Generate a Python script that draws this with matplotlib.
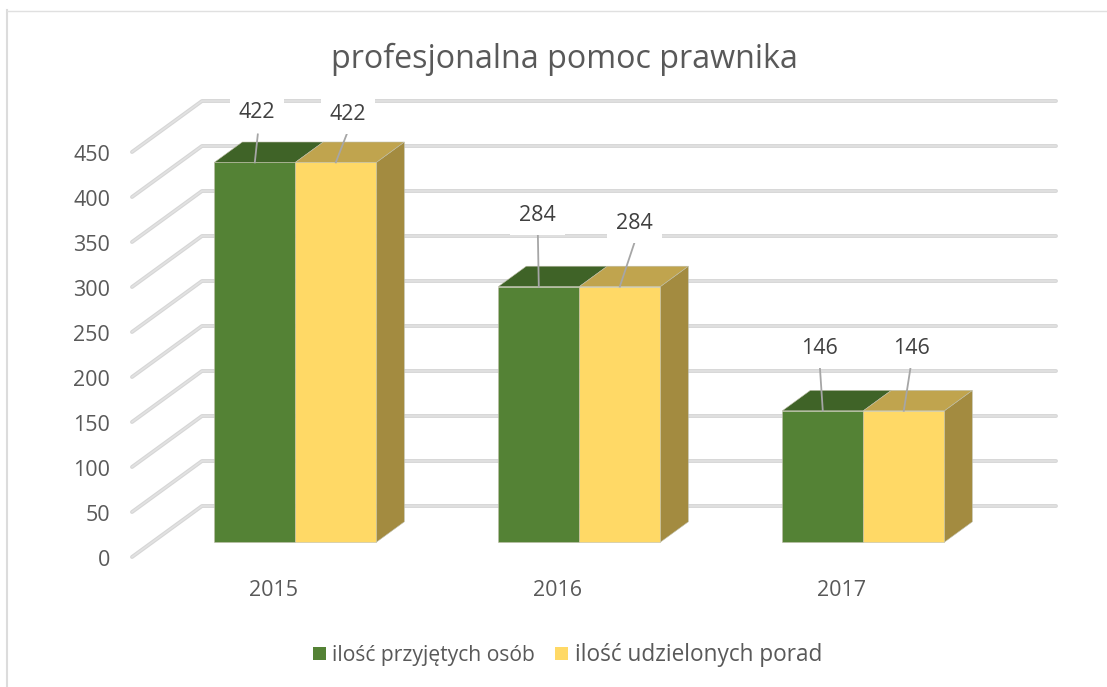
import matplotlib
matplotlib.use("Agg")
import matplotlib.pyplot as plt
from matplotlib.patches import Polygon, Patch

plt.rcParams["font.family"] = ["Open Sans", "DejaVu Sans"]

years = ["2015", "2016", "2017"]
przyjete = [422, 284, 146]
porady = [422, 284, 146]
ticks = [0, 50, 100, 150, 200, 250, 300, 350, 400, 450]

W, H = 1107, 687
# one category = 284 px, one unit of value = 0.9 px
PX_X = 284
PX_Y = 0.9
DEPTH_X = 70 / PX_X   # depth of the floor
DEPTH_Y = 51 / PX_Y
BAR_W = 81 / PX_X
Z0, Z1 = 0.29, 0.69   # bars between these depths

green, green_top = "#548235", "#3F6327"
yellow, yellow_top, yellow_side = "#FFD966", "#C0A44E", "#A38B40"
text_col = "#595959"


def pr(x, v, z):
    return (x + z * DEPTH_X, v + z * DEPTH_Y)


fig = plt.figure(figsize=(W / 100, H / 100), dpi=100)
ax = fig.add_axes([0, 0, 1, 1])
ax.set_xlim(-275 / PX_X, (W - 275) / PX_X)
ax.set_ylim((557 - H) / PX_Y, 557 / PX_Y)
ax.axis("off")

# chart frame, only left and top show
ax.plot([7 / W, 7 / W], [0, 1 - 10 / H], transform=ax.transAxes, color="#DCDCDC", lw=1.5, zorder=1)
ax.plot([7 / W, 1], [1 - 10.5 / H, 1 - 10.5 / H], transform=ax.transAxes, color="#E0E0E0", lw=1, zorder=1)

# grid, side wall and back wall
x_left = (132 - 275) / PX_X
x_right = (1056 - 275) / PX_X - DEPTH_X
for t in ticks:
    xs, ys = zip(pr(x_left, t, 0), pr(x_left, t, 1), pr(x_right, t, 1))
    ax.plot(xs, ys, color="#D6D6D6", lw=2.8, zorder=2, solid_capstyle="round")
    ax.plot(xs, ys, color="#E2E2E2", lw=1.2, zorder=2.1, solid_capstyle="round")
    ax.text(x_left - 22 / PX_X, t - 3.5 / PX_Y, str(t), ha="right", va="center",
            fontsize=15.5, color=text_col)


def bar(x0, v, front, top, side=None):
    x1 = x0 + BAR_W
    edge = "#BDBDA8"
    if side:
        ax.add_patch(Polygon([pr(x1, 0, Z0), pr(x1, 0, Z1), pr(x1, v, Z1), pr(x1, v, Z0)],
                             fc=side, ec=edge, lw=0.4, zorder=3))
    ax.add_patch(Polygon([pr(x0, v, Z0), pr(x1, v, Z0), pr(x1, v, Z1), pr(x0, v, Z1)],
                         fc=top, ec=edge, lw=0.4, zorder=3))
    ax.add_patch(Polygon([pr(x0, 0, Z0), pr(x1, 0, Z0), pr(x1, v, Z0), pr(x0, v, Z0)],
                         fc=front, ec=edge, lw=0.4, zorder=3))


# label offsets from the front top edge of each bar, in px: leader end and text centre
lab_a = [((3, 28), (2, 50)), ((-1, 55), (-1, 71)), ((-3, 45), (-3, 62)) ]
lab_b = [((12, 31), (12, 48)), ((15, 45), (15, 63)), ((7, 45), (8, 62))]


def label(xc, v, off):
    (lx, ly), (tx, ty) = off
    bx, by = pr(xc, v, Z0)
    ax.plot([bx, bx + lx / PX_X], [by, by + ly / PX_Y], color="#A6A6A6", lw=1.3, zorder=5)
    ax.text(bx + tx / PX_X, by + ty / PX_Y, str(v), ha="center", va="center", fontsize=15.5,
            color="#404040", zorder=6,
            bbox=dict(fc="white", ec="none", boxstyle="square,pad=0.42"))


for i, year in enumerate(years):
    bar(i - BAR_W, przyjete[i], green, green_top)
    bar(i, porady[i], yellow, yellow_top, yellow_side)
    label(i - BAR_W / 2, przyjete[i], lab_a[i])
    label(i + BAR_W / 2, porady[i], lab_b[i])
    ax.text(i - 1 / PX_X, -(590 - 557) / PX_Y, year, ha="center", va="center", fontsize=15.5, color=text_col)

ax.text(564 / W, 1 - 59 / H, "profesjonalna pomoc prawnika", transform=ax.transAxes,
        ha="center", va="center", fontsize=23.25, color=text_col)

handles = [Patch(fc=green, ec="none"), Patch(fc=yellow, ec="none")]
leg = ax.legend(handles, ["ilość przyjętych osób", "ilość udzielonych porad"],
                loc="center", bbox_to_anchor=(567.5 / W, 1 - 655 / H), ncol=2, frameon=False,
                fontsize=15.5, labelcolor=text_col, handlelength=0.6, handleheight=0.6,
                handletextpad=0.3, columnspacing=0.95)
leg.get_texts()[0].set_fontsize(15.2)
leg.get_texts()[1].set_fontsize(16.3)

fig.savefig("out.png", dpi=100)
